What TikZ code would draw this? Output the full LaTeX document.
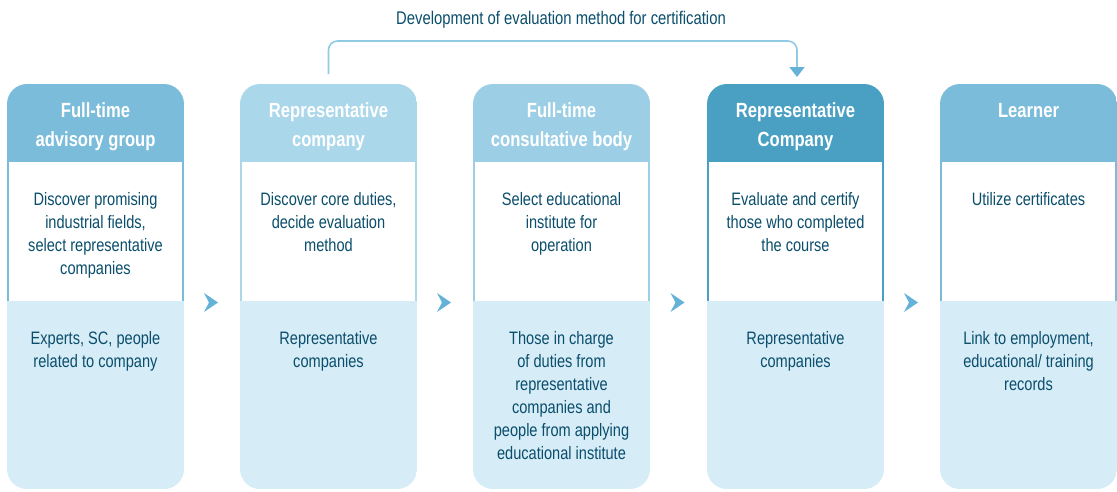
\documentclass[tikz,border=0pt]{standalone}
\usepackage{fontspec}
\setmainfont{Liberation Sans}[FakeStretch=0.81]
\usetikzlibrary{arrows.meta,calc}
\definecolor{txtc}{RGB}{10,78,108}
\definecolor{hdA}{RGB}{123,188,218}
\definecolor{hdB}{RGB}{171,215,235}
\definecolor{hdC}{RGB}{156,207,230}
\definecolor{hdD}{RGB}{74,160,194}
\definecolor{lowfill}{RGB}{214,236,247}
\definecolor{chev}{RGB}{100,178,215}
\definecolor{connc}{RGB}{145,202,228}
\newcommand\hdfont{\fontsize{20.5}{29}\selectfont\bfseries}
\newcommand\bdfont{\fontsize{18}{23}\selectfont}
\newcommand\tpfont{\fontsize{18.3}{22}\selectfont}
\tikzset{
  part/.style={rectangle, inner sep=0pt, outer sep=0pt, minimum width=177pt, draw=none},
  hdtxt/.style={inner sep=0pt, align=center, text=white, font=\hdfont},
  bdtxt/.style={inner sep=0pt, align=center, text=txtc, font=\bdfont},
  tptxt/.style={inner sep=0pt, text=txtc, font=\tpfont},
  conn/.style={draw=connc, line width=1.6pt, rounded corners=9pt},
  chevron/.style={fill=chev, draw=none}
}
\newcommand\mkbox[6]{%
  \begin{scope}
    \clip[rounded corners=20pt] (#2,84) rectangle ++(177,405);
    \node[part, fill=#3, minimum height=78pt, anchor=north west] (h#1) at (#2,84) {};
    \node[part, fill=white, minimum height=139pt, anchor=north west] (m#1) at (#2,162) {};
    \node[part, fill=lowfill, minimum height=188pt, anchor=north west] (b#1) at (#2,301) {};
  \end{scope}
  \draw[#3, line width=2pt] ([xshift=1pt]m#1.north west) -- ([xshift=1pt]m#1.south west)
    ([xshift=-1pt]m#1.north east) -- ([xshift=-1pt]m#1.south east);
  \node[hdtxt, anchor=north] (th#1) at ([yshift=-12.7pt]h#1.north) {\strut #4};
  \node[bdtxt, anchor=north] (tm#1) at ([yshift=-26.9pt]m#1.north) {\strut #5};
  \node[bdtxt, anchor=north] (tb#1) at ([yshift=-26.9pt]b#1.north) {\strut #6};
}
\begin{document}
\begin{tikzpicture}[x=1pt,y=-1pt]
\useasboundingbox (0,0) rectangle (1117,491);

\mkbox{1}{7}{hdA}{Full-time\\advisory group}{Discover promising\\industrial fields,\\select representative\\companies}{Experts, SC, people\\related to company}
\mkbox{2}{240}{hdB}{Representative\\company}{Discover core duties,\\decide evaluation\\method}{Representative\\companies}
\mkbox{3}{473}{hdC}{Full-time\\consultative body}{Select educational\\institute for\\operation}{Those in charge\\of duties from\\representative\\companies and\\people from applying\\educational institute}
\mkbox{4}{707}{hdD}{Representative\\Company}{Evaluate and certify\\those who completed\\the course}{Representative\\companies}
\mkbox{5}{940}{hdA}{Learner}{Utilize certificates}{Link to employment,\\educational/ training\\records}

% chevrons between boxes
\foreach \a/\b in {1/2,2/3,3/4,4/5}{
  \coordinate (c\a) at ($(b\a.north east)!0.5!(b\b.north west)+(-1,1.5)$);
  \fill[chevron] ($(c\a)+(-7,-9.5)$) -- ($(c\a)+(7,0)$) -- ($(c\a)+(-7,9.5)$) -- ($(c\a)+(-2,0)$) -- cycle;
}

% top connector
\node[tptxt, anchor=base] (lbl) at (561,24) {Development of evaluation method for certification};
\draw[conn, -{Triangle[width=15pt,length=10pt,color=chev]}]
  ([yshift=10pt]h2.north) -- ([yshift=43pt]h2.north) -| ([xshift=1.5pt,yshift=7pt]h4.north);
\end{tikzpicture}
\end{document}
